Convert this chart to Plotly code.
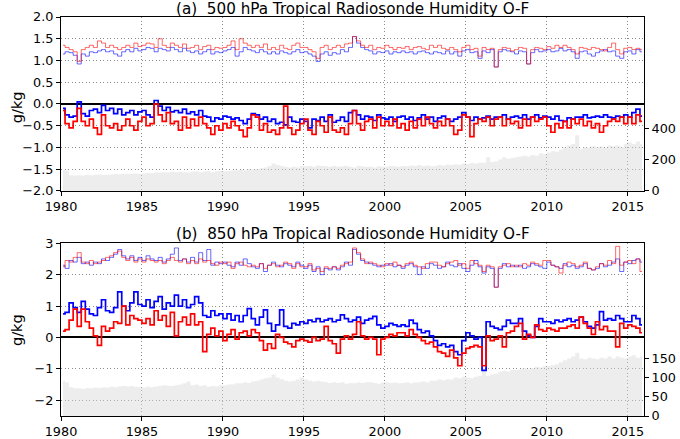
import plotly.graph_objects as go

# Quarterly values, 1980 Q1 .. 2015 Q4 (144 values each)
start_year = 1980
n_years = 36

# Panel (a) 500 hPa
bias_blue_a = [
    -0.10, -0.25, -0.30, -0.28,  0.05, -0.22, -0.28, -0.15,
    -0.12, -0.20, -0.03, -0.15, -0.10, -0.22, -0.12, -0.25,
    -0.20, -0.15, -0.25, -0.18, -0.15, -0.25, -0.30,  0.08,
    -0.05, -0.15, -0.08, -0.18, -0.15, -0.20, -0.12, -0.22,
    -0.18, -0.25, -0.15, -0.28, -0.30, -0.40, -0.32, -0.35,
    -0.28, -0.30, -0.35, -0.32, -0.38, -0.45, -0.35, -0.22,
    -0.25, -0.35, -0.30, -0.40, -0.35, -0.45, -0.42, -0.48,
    -0.30, -0.40, -0.42, -0.35, -0.40, -0.55, -0.35, -0.38,
    -0.30, -0.40, -0.25, -0.42, -0.38, -0.30, -0.40, -0.20,
    -0.15, -0.25, -0.35, -0.28, -0.30, -0.38, -0.25, -0.32,
    -0.35, -0.30, -0.40, -0.30, -0.28, -0.35, -0.30, -0.38,
    -0.32, -0.25, -0.35, -0.30, -0.40, -0.32, -0.28, -0.35,
    -0.40, -0.35, -0.30, -0.20, -0.30, -0.38, -0.30, -0.35,
    -0.32, -0.28, -0.35, -0.30, -0.30, -0.25, -0.35, -0.30,
    -0.28, -0.32, -0.25, -0.35, -0.30, -0.25, -0.32, -0.28,
    -0.30, -0.35, -0.28, -0.38, -0.40, -0.32, -0.35, -0.30,
    -0.30, -0.25, -0.32, -0.30, -0.28, -0.30, -0.25, -0.30,
    -0.32, -0.28, -0.30, -0.25, -0.30, -0.20, -0.12, -0.28,
]
bias_red_a = [
    -0.15, -0.45, -0.55, -0.40, -0.10, -0.40, -0.50, -0.35,
    -0.55, -0.70, -0.25, -0.50, -0.55, -0.45, -0.60, -0.50,
    -0.35, -0.50, -0.60, -0.40, -0.30, -0.50, -0.45,  0.00,
    -0.25, -0.40, -0.20, -0.45, -0.40, -0.60, -0.30, -0.55,
    -0.35, -0.50, -0.30, -0.45, -0.55, -0.70, -0.50, -0.60,
    -0.45, -0.55, -0.40, -0.50, -0.60, -0.75, -0.55, -0.25,
    -0.30, -0.60, -0.45, -0.65, -0.60, -0.70, -0.55, -0.05,
    -0.55, -0.70, -0.60, -0.45, -0.35, -0.60, -0.70, -0.40,
    -0.50, -0.65, -0.30, -0.60, -0.65, -0.55, -0.70, -0.45,
    -0.15, -0.45, -0.60, -0.40, -0.35, -0.55, -0.30, -0.50,
    -0.40, -0.50, -0.35, -0.55, -0.45, -0.60, -0.40, -0.55,
    -0.35, -0.50, -0.30, -0.45, -0.55, -0.40, -0.50, -0.35,
    -0.50, -0.70, -0.60, -0.25, -0.30, -0.75, -0.45, -0.35,
    -0.40, -0.30, -0.50, -0.35, -0.30, -0.50, -0.35, -0.45,
    -0.40, -0.55, -0.35, -0.50, -0.30, -0.40, -0.35, -0.30,
    -0.50, -0.65, -0.45, -0.55, -0.40, -0.55, -0.35, -0.45,
    -0.35, -0.50, -0.40, -0.55, -0.45, -0.65, -0.50, -0.40,
    -0.35, -0.40, -0.30, -0.45, -0.30, -0.45, -0.25, -0.40,
]
sd_blue_a = [
    1.15, 1.20, 1.18, 1.12, 0.92, 1.15, 1.10, 1.20,
    1.18, 1.22, 1.25, 1.20, 1.22, 1.15, 1.10, 1.20,
    1.25, 1.20, 1.28, 1.22, 1.25, 1.30, 1.28, 1.20,
    1.28, 1.25, 1.22, 1.30, 1.25, 1.20, 1.28, 1.22,
    1.18, 1.22, 1.15, 1.20, 1.25, 1.15, 1.20, 1.18,
    1.22, 1.25, 1.30, 1.10, 1.20, 1.30, 1.25, 1.22,
    1.18, 1.25, 1.20, 1.15, 1.20, 1.15, 1.22, 1.18,
    1.15, 1.20, 1.25, 1.18, 1.20, 1.15, 1.10, 0.98,
    1.15, 1.20, 1.12, 1.18, 1.15, 1.25, 1.20, 1.30,
    1.55, 1.40, 1.30, 1.25, 1.22, 1.15, 1.20, 1.18,
    1.22, 1.15, 1.20, 1.18, 1.22, 1.18, 1.20, 1.15,
    1.20, 1.22, 1.18, 1.15, 1.20, 1.18, 1.15, 1.22,
    1.15, 1.20, 1.10, 1.22, 1.25, 1.18, 1.20, 1.05,
    1.22, 1.18, 1.25, 0.85, 1.20, 1.25, 1.22, 1.20,
    1.15, 1.22, 1.20, 0.92, 1.18, 1.25, 1.20, 1.22,
    1.25, 1.20, 1.22, 1.28, 1.22, 1.25, 1.20, 1.05,
    1.20, 1.22, 1.15, 1.10, 1.18, 1.22, 1.25, 1.20,
    1.22, 1.10, 1.05, 1.20, 1.22, 1.15, 1.25, 1.20,
]
sd_red_a = [
    1.35, 1.30, 1.25, 1.20, 0.98, 1.25, 1.30, 1.35,
    1.30, 1.45, 1.40, 1.30, 1.35, 1.30, 1.25, 1.30,
    1.35, 1.30, 1.40, 1.32, 1.35, 1.40, 1.38, 1.30,
    1.50, 1.35, 1.30, 1.40, 1.35, 1.30, 1.38, 1.28,
    1.30, 1.35, 1.25, 1.32, 1.35, 1.25, 1.30, 1.28,
    1.30, 1.35, 1.45, 1.25, 1.50, 1.40, 1.35, 1.30,
    1.35, 1.30, 1.38, 1.25, 1.30, 1.25, 1.35, 1.28,
    1.25, 1.35, 1.40, 1.30, 1.30, 1.25, 1.20, 1.05,
    1.30, 1.35, 1.25, 1.30, 1.35, 1.30, 1.38, 1.40,
    1.55, 1.45, 1.35, 1.30, 1.35, 1.25, 1.30, 1.28,
    1.35, 1.30, 1.25, 1.30, 1.28, 1.32, 1.25, 1.30,
    1.32, 1.28, 1.25, 1.35, 1.30, 1.35, 1.28, 1.25,
    1.30, 1.25, 1.20, 1.30, 1.35, 1.25, 1.28, 1.10,
    1.30, 1.25, 1.28, 0.85, 1.25, 1.30, 1.28, 1.22,
    1.25, 1.30, 1.28, 0.92, 1.25, 1.30, 1.28, 1.25,
    1.32, 1.28, 1.35, 1.30, 1.35, 1.30, 1.25, 1.15,
    1.30, 1.28, 1.25, 1.30, 1.28, 1.25, 1.22, 1.30,
    1.40, 1.25, 1.15, 1.28, 1.30, 1.25, 1.28, 1.25,
]
count_a = [
    135, 130, 100, 98, 100, 98, 102, 100,
    103, 105, 102, 104, 105, 108, 106, 110,
    108, 110, 112, 110, 112, 115, 113, 118,
    118, 120, 118, 122, 120, 122, 120, 118,
    122, 125, 120, 124, 125, 120, 125, 128,
    125, 128, 130, 132, 135, 132, 140, 138,
    140, 145, 150, 160, 175, 165, 160, 155,
    150, 155, 150, 160, 158, 160, 155, 162,
    160, 158, 155, 160, 155, 158, 160, 155,
    150, 160, 158, 155, 155, 150, 158, 155,
    155, 160, 158, 155, 160, 158, 162, 160,
    165, 160, 162, 158, 160, 165, 162, 168,
    165, 170, 168, 175, 172, 178, 175, 180,
    180, 215, 185, 190, 200, 215, 205, 210,
    215, 220, 225, 220, 230, 225, 240, 235,
    245, 255, 250, 265, 275, 290, 300, 355,
    270, 280, 275, 285, 280, 285, 275, 290,
    285, 290, 280, 300, 310, 300, 315, 300,
]

# Panel (b) 850 hPa
bias_blue_b = [
    0.75, 0.80, 1.10, 0.95, 0.80, 1.15, 0.90, 0.75,
    0.70, 0.95, 1.20, 0.85, 0.80, 0.95, 1.45, 1.00,
    0.85, 1.10, 1.45, 1.05, 1.00, 1.20, 0.95, 1.15,
    1.30, 0.90, 1.10, 1.00, 1.35, 1.00, 1.20, 0.95,
    1.05, 1.30, 1.10, 0.70, 0.65, 0.85, 0.70, 0.75,
    0.60, 0.75, 0.55, 0.70, 0.50, 0.70, 0.92, 0.60,
    0.40, 0.65, 0.88, 0.45, 0.20, 0.40, 0.88, 0.35,
    0.30, 0.45, 0.40, 0.50, 0.45, 0.55, 0.50, 0.60,
    0.50, 0.55, 0.60, 0.50, 0.55, 0.72, 0.60, 0.50,
    0.55, 0.65, 0.45, 0.55, 0.60, 0.67, 0.40, 0.30,
    0.35, 0.45, 0.40, 0.35, 0.40, 0.35, 0.55, 0.45,
    0.25, 0.15, 0.20, 0.05, -0.10, -0.25, -0.20, -0.30,
    -0.25, -0.45, -0.55, -0.10, 0.15, 0.05, -0.05, 0.00,
    -1.05, 0.50, 0.35, 0.30, 0.25, 0.35, 0.55, 0.45,
    0.45, 0.60, 0.20, 0.05, 0.00, 0.35, 0.60, 0.50,
    0.50, 0.45, 0.55, 0.50, 0.55, 0.60, 0.50, 0.55,
    0.65, 0.50, 0.35, 0.30, 0.40, 0.82, 0.55, 0.60,
    0.55, 0.70, 0.60, 0.50, 0.50, 0.70, 0.60, 0.40,
]
bias_red_b = [
    0.20, 0.25, 0.55, 0.90, 0.35, 0.90, 0.50, 0.30,
    0.05, -0.25, 0.35, 0.20, 0.30, 0.50, 0.45, 1.00,
    0.40, 0.70, 0.60, 0.55, 0.45, 0.60, 0.40, 0.85,
    0.55, 0.70, 0.35, 0.80, 0.05, 0.50, 0.65, 0.40,
    0.75, 0.40, 0.50, -0.45, 0.10, 0.30, 0.05, 0.20,
    -0.10, 0.10, 0.25, -0.05, 0.15, 0.20, 0.05, 0.25,
    0.15, -0.10, -0.40, -0.20, -0.35, 0.10, 0.00, -0.15,
    -0.20, -0.30, -0.10, -0.05, -0.10, -0.15, 0.00, -0.10,
    -0.05, 0.35, -0.10, -0.20, -0.50, -0.05, 0.05, -0.05,
    0.10, 0.50, 0.05, -0.05, 0.00, -0.05, -0.55, -0.05,
    0.00, 0.10, 0.05, 0.15, 0.15, 0.05, 0.25, 0.10,
    0.00, -0.10, -0.20, -0.15, -0.30, -0.45, -0.50, -0.60,
    -0.40, -0.65, -0.90, -0.50, -0.35, -0.30, -0.25, -0.30,
    -0.90, 0.05, -0.10, -0.05, 0.05, -0.30, 0.15, 0.20,
    0.35, 0.45, -0.05, 0.10, 0.00, 0.40, 0.25, 0.20,
    0.30, 0.25, 0.20, 0.30, 0.30, 0.35, 0.40, 0.30,
    0.65, 0.45, 0.30, 0.10, 0.50, 0.25, 0.35, 0.20,
    0.20, -0.30, 0.45, 0.30, 0.40, 0.35, 0.30, 0.15,
]
sd_blue_b = [
    2.30, 2.20, 2.45, 2.40, 2.55, 2.35, 2.40, 2.30,
    2.40, 2.35, 2.50, 2.45, 2.55, 2.65, 2.80, 2.60,
    2.50, 2.60, 2.45, 2.55, 2.45, 2.60, 2.50, 2.45,
    2.55, 2.40, 2.50, 2.65, 2.85, 2.45, 2.50, 2.40,
    2.55, 2.40, 2.70, 2.45, 2.80, 2.30, 2.40, 2.35,
    2.40, 2.30, 2.25, 2.40, 2.30, 2.50, 2.35, 2.25,
    2.20, 2.35, 2.10, 2.30, 2.40, 2.30, 2.25, 2.35,
    2.30, 2.25, 2.40, 2.30, 2.20, 2.30, 2.10, 2.25,
    2.00, 2.20, 2.15, 2.25, 2.15, 2.25, 2.40, 2.30,
    2.80, 2.65, 2.45, 2.40, 2.35, 2.30, 2.25, 2.30,
    2.30, 2.35, 2.25, 2.30, 2.20, 2.30, 2.35, 2.25,
    2.00, 2.25, 2.20, 2.35, 2.30, 2.20, 2.25, 2.40,
    2.30, 2.25, 2.35, 2.20, 2.10, 2.30, 2.45, 2.25,
    2.05, 2.25, 2.20, 1.60, 2.20, 2.35, 2.25, 2.30,
    2.25, 2.30, 2.20, 2.25, 2.35, 2.30, 2.25, 2.20,
    2.40, 2.30, 2.25, 2.20, 2.35, 2.25, 2.30, 2.20,
    2.25, 2.35, 2.20, 2.15, 2.20, 2.35, 2.25, 2.30,
    2.40, 2.50, 2.10, 2.40, 2.35, 2.45, 2.50, 2.40,
]
sd_red_b = [
    2.25, 2.45, 2.40, 2.55, 2.70, 2.40, 2.35, 2.45,
    2.35, 2.40, 2.45, 2.55, 2.60, 2.70, 2.75, 2.55,
    2.45, 2.55, 2.40, 2.50, 2.40, 2.50, 2.45, 2.40,
    2.45, 2.35, 2.45, 2.55, 2.45, 2.40, 2.50, 2.35,
    2.45, 2.35, 2.50, 2.40, 2.45, 2.35, 2.30, 2.40,
    2.35, 2.40, 2.20, 2.35, 2.40, 2.30, 2.25, 2.30,
    2.25, 2.35, 2.20, 2.30, 2.35, 2.25, 2.30, 2.40,
    2.35, 2.20, 2.35, 2.25, 2.25, 2.35, 2.15, 2.20,
    2.10, 2.25, 2.20, 2.25, 2.20, 2.30, 2.35, 2.40,
    2.85, 2.70, 2.50, 2.35, 2.40, 2.35, 2.30, 2.25,
    2.35, 2.30, 2.40, 2.30, 2.25, 2.35, 2.40, 2.30,
    2.25, 2.20, 2.35, 2.40, 2.40, 2.30, 2.25, 2.35,
    2.40, 2.45, 2.30, 2.35, 2.20, 2.45, 2.35, 2.30,
    2.10, 2.30, 2.25, 1.60, 2.25, 2.30, 2.35, 2.25,
    2.30, 2.25, 2.35, 2.30, 2.40, 2.35, 2.30, 2.45,
    2.45, 2.30, 2.25, 2.05, 2.30, 2.40, 2.35, 2.25,
    2.30, 2.40, 2.20, 2.15, 2.25, 2.35, 2.30, 2.45,
    2.35, 2.90, 2.30, 2.40, 2.45, 2.35, 2.50, 2.10,
]
count_b = [
    92, 88, 75, 72, 72, 70, 73, 72,
    74, 73, 75, 74, 76, 75, 77, 78,
    77, 78, 76, 75, 74, 76, 75, 77,
    78, 80, 79, 78, 80, 82, 85, 90,
    80, 82, 78, 80, 76, 78, 77, 80,
    80, 82, 83, 85, 85, 88, 86, 90,
    92, 95, 98, 100, 108, 100, 96, 92,
    90, 92, 95, 100, 95, 92, 90, 92,
    90, 88, 86, 88, 86, 88, 84, 86,
    85, 87, 86, 88, 88, 86, 84, 87,
    88, 86, 87, 85, 86, 88, 85, 87,
    88, 90, 88, 92, 92, 95, 93, 96,
    95, 100, 98, 102, 100, 98, 102, 105,
    117, 105, 108, 110, 115, 118, 116, 120,
    120, 122, 125, 122, 125, 128, 126, 130,
    130, 132, 135, 140, 145, 150, 155, 165,
    150, 148, 152, 150, 148, 152, 150, 155,
    150, 155, 152, 150, 155, 158, 152, 155,
]

years = [start_year + (i + 0.5) / 4 for i in range(n_years * 4)]
year_ticks = list(range(1980, 2016, 5))

title_a = "(a)  500 hPa Tropical Radiosonde Humidity O-F"
title_b = "(b)  850 hPa Tropical Radiosonde Humidity O-F"

FONT = "DejaVu Sans"
GREY_FILL = "rgba(215,215,215,0.45)"
LIGHT_RED = "rgba(255,0,0,0.6)"
LIGHT_BLUE = "rgba(0,0,255,0.6)"

fig = go.Figure()

# counts (base axes, right side)
fig.add_trace(go.Scatter(x=years, y=count_a, xaxis="x", yaxis="y", mode="lines",
                         line=dict(width=0, shape="hvh"), fill="tozeroy",
                         fillcolor=GREY_FILL, showlegend=False, hoverinfo="skip"))
fig.add_trace(go.Scatter(x=years, y=count_b, xaxis="x2", yaxis="y2", mode="lines",
                         line=dict(width=0, shape="hvh"), fill="tozeroy",
                         fillcolor=GREY_FILL, showlegend=False, hoverinfo="skip"))

def add_lines(xa, ya, sd_b, sd_r, bi_b, bi_r):
    fig.add_trace(go.Scatter(x=years, y=sd_b, xaxis=xa, yaxis=ya, mode="lines",
                             line=dict(color=LIGHT_BLUE, width=1, shape="hvh"), showlegend=False))
    fig.add_trace(go.Scatter(x=years, y=sd_r, xaxis=xa, yaxis=ya, mode="lines",
                             line=dict(color=LIGHT_RED, width=1, shape="hvh"), showlegend=False))
    fig.add_trace(go.Scatter(x=years, y=bi_b, xaxis=xa, yaxis=ya, mode="lines",
                             line=dict(color="#0000ff", width=1.7, shape="hvh"), showlegend=False))
    fig.add_trace(go.Scatter(x=years, y=bi_r, xaxis=xa, yaxis=ya, mode="lines",
                             line=dict(color="#ff0000", width=1.7, shape="hvh"), showlegend=False))

add_lines("x", "y3", sd_blue_a, sd_red_a, bias_blue_a, bias_red_a)
add_lines("x2", "y4", sd_blue_b, sd_red_b, bias_blue_b, bias_red_b)

dom_a = [0.564, 1.0]
dom_b = [0.0, 0.433]
tickfont = dict(family=FONT, size=12.8, color="black")
grid = dict(showgrid=True, gridcolor="#8c8c8c", griddash="1px,2.5px", gridwidth=1)
xcommon = dict(range=[1980, 2016], tickvals=year_ticks, ticks="outside", ticklen=4,
               tickcolor="black", showline=True, linecolor="black", linewidth=1,
               mirror=True, zeroline=False, tickfont=tickfont, automargin=False, **grid)
countcommon = dict(side="right", showgrid=False, zeroline=False, ticks="outside",
                   ticklen=4, tickcolor="black", showline=True, linecolor="black",
                   tickfont=tickfont, automargin=False)
gcommon = dict(side="left", ticks="outside", ticklen=4, tickcolor="black",
               showline=True, linecolor="black", linewidth=1, mirror=True,
               zeroline=True, zerolinecolor="black", zerolinewidth=1.5,
               tickfont=tickfont, automargin=False, **grid)

fig.update_layout(
    width=680, height=439,
    margin=dict(l=61, r=36, t=17, b=23, autoexpand=False),
    paper_bgcolor="white", plot_bgcolor="white",
    font=dict(family=FONT, size=12.8, color="black"),
    xaxis=dict(domain=[0, 1], anchor="y", **xcommon),
    xaxis2=dict(domain=[0, 1], anchor="y2", **xcommon),
    yaxis=dict(domain=dom_a, anchor="x", range=[0, 1110], tickvals=[0, 200, 400], **countcommon),
    yaxis2=dict(domain=dom_b, anchor="x2", range=[0, 450], tickvals=[0, 50, 100, 150], **countcommon),
    yaxis3=dict(overlaying="y", anchor="x", range=[-2, 2], tickvals=[-2, -1.5, -1, -0.5, 0, 0.5, 1, 1.5, 2],
                tickformat=".1f", **gcommon),
    yaxis4=dict(overlaying="y2", anchor="x2", range=[-2.5, 3], tickvals=[-2, -1, 0, 1, 2, 3], **gcommon),
    annotations=[
        dict(text=title_a, xref="paper", yref="paper", x=0.5, y=1.0205, showarrow=False,
             font=dict(family=FONT, size=15.2, color="black"), xanchor="center", yanchor="middle"),
        dict(text=title_b, xref="paper", yref="paper", x=0.5, y=0.4565, showarrow=False,
             font=dict(family=FONT, size=15.2, color="black"), xanchor="center", yanchor="middle"),
        dict(text="g/kg", xref="paper", yref="paper", x=-0.0755, y=0.774, showarrow=False,
             textangle=-90, font=dict(family=FONT, size=14.5, color="black"),
             xanchor="center", yanchor="middle"),
        dict(text="g/kg", xref="paper", yref="paper", x=-0.0755, y=0.2155, showarrow=False,
             textangle=-90, font=dict(family=FONT, size=14.5, color="black"),
             xanchor="center", yanchor="middle"),
    ],
)

fig.write_html("out.html", config={"displayModeBar": False},
               post_script="document.body.style.margin='0px';")
